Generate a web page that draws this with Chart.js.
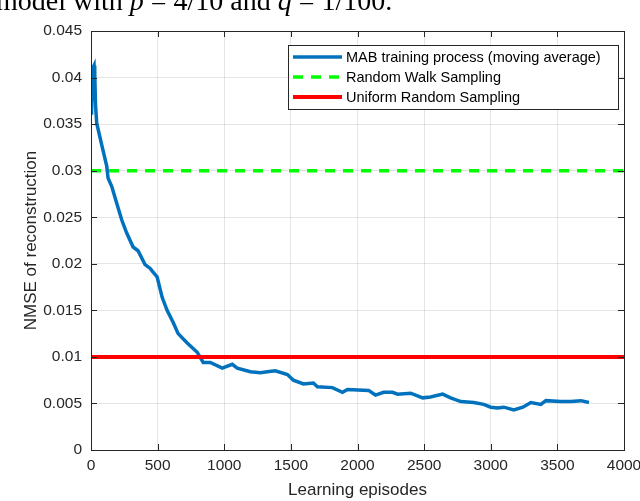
<!DOCTYPE html>
<html>
<head>
<meta charset="utf-8">
<script src="https://cdn.jsdelivr.net/npm/chart.js@4.4.1/dist/chart.umd.min.js"></script>
<style>
  html, body { margin: 0; padding: 0; background: #fff; overflow: hidden; }
  #wrap { position: relative; width: 640px; height: 501px; }
  #cap { position: absolute; left: -4px; top: -13px; font-family: 'Liberation Serif', serif; font-size: 28px; line-height: 28px; color: #000; white-space: nowrap; }
  #chart { position: absolute; left: 0; top: 0; }
</style>
</head>
<body>
<div id="wrap">
  <canvas id="chart" width="640" height="501"></canvas>
  <div id="cap">model with <i>p</i> = 4/10 and <i>q</i> = 1/100.</div>
</div>
<script>
// ---- data ----
const episodes = [4, 8, 11, 15, 23, 26, 30, 34, 43, 80, 118, 128, 156, 193, 231, 268, 316, 353, 406, 444,
  466, 496, 534, 571, 617, 654, 722, 797, 842, 895, 985, 1060, 1098, 1196, 1271, 1323, 1383, 1474, 1519, 1594,
  1669, 1699, 1812, 1887, 1925, 2083, 2135, 2196, 2263, 2301, 2399, 2489, 2549, 2639, 2699, 2775, 2872, 2947, 3000, 3053,
  3098, 3173, 3241, 3301, 3376, 3414, 3526, 3601, 3677, 3737];
const mabNmse = [0.036, 0.040, 0.0375, 0.041, 0.0413, 0.039, 0.0405, 0.037, 0.0351, 0.0328, 0.0305, 0.0292, 0.0283, 0.0265, 0.0247, 0.0233, 0.0218, 0.0214, 0.0199, 0.0195,
  0.0191, 0.0186, 0.0164, 0.0150, 0.0137, 0.0125, 0.0115, 0.0105, 0.0094, 0.0094, 0.0088, 0.0092, 0.0088, 0.0084, 0.0083, 0.0084, 0.0085, 0.0081, 0.0075, 0.0071,
  0.0072, 0.0068, 0.0067, 0.0062, 0.0065, 0.0064, 0.0059, 0.0062, 0.0062, 0.0060, 0.0061, 0.0056, 0.0057, 0.0060, 0.0056, 0.0052, 0.0051, 0.0049, 0.0046, 0.0045,
  0.0046, 0.0043, 0.0046, 0.0051, 0.0049, 0.0053, 0.0052, 0.0052, 0.0053, 0.0051];
const randomWalk = 0.03;
const uniformRandom = 0.01;
const xRange = [0, 4000];
const xTickLabels = ['0', '500', '1000', '1500', '2000', '2500', '3000', '3500', '4000'];
const yTickLabels = ['0', '0.005', '0.01', '0.015', '0.02', '0.025', '0.03', '0.035', '0.04', '0.045'];
const seriesNames = ['MAB training process (moving average)', 'Random Walk Sampling', 'Uniform Random Sampling'];

const ink = '#262626';
const fontFam = "'Liberation Sans', Arial, sans-serif";

// MATLAB-style box with inward ticks on all four sides
const boxPlugin = {
  id: 'box',
  afterDatasetsDraw(chart) {
    const { ctx, chartArea: a, scales: { x, y } } = chart;
    ctx.save();
    ctx.strokeStyle = ink;
    ctx.lineWidth = 1;
    ctx.beginPath();
    x.ticks.forEach(t => {
      const px = Math.round(x.getPixelForValue(t.value)) + 0.5;
      ctx.moveTo(px, a.bottom); ctx.lineTo(px, a.bottom - 6);
      ctx.moveTo(px, a.top); ctx.lineTo(px, a.top + 6);
    });
    y.ticks.forEach(t => {
      const py = Math.round(y.getPixelForValue(t.value)) + 0.5;
      ctx.moveTo(a.left, py); ctx.lineTo(a.left + 6, py);
      ctx.moveTo(a.right, py); ctx.lineTo(a.right - 6, py);
    });
    ctx.stroke();
    ctx.strokeRect(Math.round(a.left) + 0.5, Math.round(a.top) + 0.5, Math.round(a.width), Math.round(a.height));
    ctx.restore();
  },
  afterDraw(chart) {
    // legend inside the axes, top right
    const { ctx } = chart;
    const lx = 288, ly = 45, lw = 330, lh = 64;
    ctx.save();
    ctx.fillStyle = '#fff';
    ctx.fillRect(lx, ly, lw, lh);
    ctx.strokeStyle = ink;
    ctx.lineWidth = 1;
    ctx.strokeRect(lx + 0.5, ly + 0.5, lw, lh);
    ctx.font = '14.5px ' + fontFam;
    ctx.textBaseline = 'middle';
    const rows = [57, 77, 97];
    chart.data.datasets.forEach((ds, i) => {
      ctx.strokeStyle = ds.borderColor;
      ctx.lineWidth = ds.borderWidth;
      ctx.setLineDash(ds.borderDash || []);
      ctx.beginPath();
      ctx.moveTo(293, rows[i]); ctx.lineTo(342, rows[i]);
      ctx.stroke();
      ctx.setLineDash([]);
      ctx.fillStyle = '#000';
      ctx.fillText(ds.label, 346, rows[i] + 1);
    });
    ctx.restore();
  }
};

new Chart(document.getElementById('chart'), {
  type: 'line',
  data: {
    datasets: [
      { label: seriesNames[0], data: episodes.map((e, i) => ({ x: e, y: mabNmse[i] })),
        borderColor: '#0072BD', borderWidth: 3.5, pointRadius: 0, tension: 0, order: 2 },
      { label: seriesNames[1], data: xRange.map(e => ({ x: e, y: randomWalk })),
        borderColor: '#00FF00', borderWidth: 3.5, borderDash: [10, 8], pointRadius: 0, order: 1 },
      { label: seriesNames[2], data: xRange.map(e => ({ x: e, y: uniformRandom })),
        borderColor: '#FF0000', borderWidth: 4, pointRadius: 0, order: 0 }
    ]
  },
  options: {
    responsive: false,
    animation: false,
    layout: { padding: { top: 31, right: 16, bottom: 0, left: 0 } },
    plugins: { legend: { display: false }, tooltip: { enabled: false } },
    scales: {
      x: {
        type: 'linear', min: xRange[0], max: xRange[1],
        ticks: { stepSize: 500, color: ink, padding: 6, maxRotation: 0, font: { family: fontFam, size: 15.5 },
          callback: (v, i) => xTickLabels[i] },
        grid: { color: 'rgba(38,38,38,0.12)', drawTicks: false },
        border: { display: false },
        title: { display: true, text: 'Learning episodes', color: ink, padding: { bottom: 0 }, font: { family: fontFam, size: 17 } },
        afterFit(s) { s.height = 51; s.paddingLeft = 0; s.paddingRight = 0; }
      },
      y: {
        min: 0, max: 0.045,
        ticks: { stepSize: 0.005, color: ink, padding: 9, font: { family: fontFam, size: 15.5 },
          callback: (v, i) => yTickLabels[i] },
        grid: { color: 'rgba(38,38,38,0.12)', drawTicks: false },
        border: { display: false },
        title: { display: true, text: 'NMSE of reconstruction', color: ink, padding: { top: 21 }, font: { family: fontFam, size: 17 } },
        afterFit(s) { s.width = 91; s.paddingTop = 0; s.paddingBottom = 0; }
      }
    }
  },
  plugins: [boxPlugin]
});
</script>
</body>
</html>
